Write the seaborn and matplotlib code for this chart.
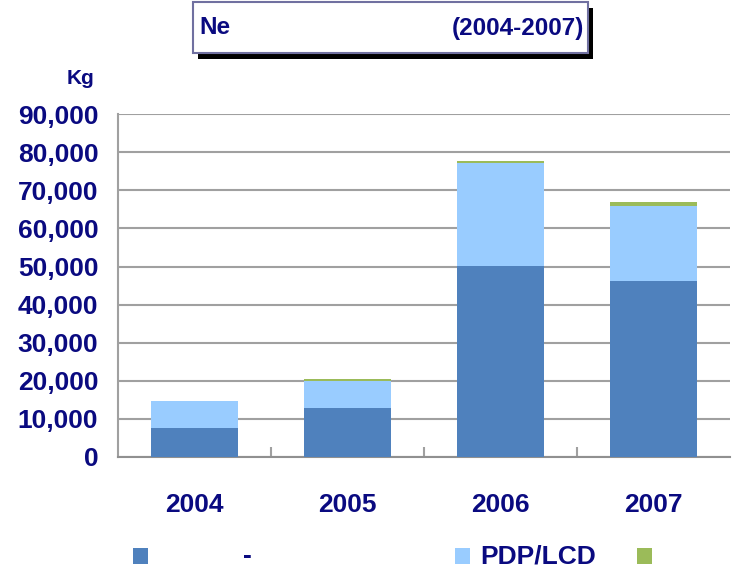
import matplotlib
matplotlib.use("Agg")
import matplotlib.pyplot as plt
from matplotlib.patches import Rectangle
from matplotlib.ticker import MultipleLocator, FuncFormatter
import seaborn as sns
import pandas as pd
import numpy as np

# data (kg)
years = ["2004", "2005", "2006", "2007"]
semi = [7600, 12900, 50100, 46200]        # dark blue
pdp_lcd = [7100, 7100, 27100, 19700]      # light blue
other = [0, 500, 500, 1000]               # green

legend_labels = ["-", "PDP/LCD", ""]
title_left = "Ne"
title_right = "(2004-2007)"

navy = "#0a0a80"
c_semi = "#4F81BD"
c_pdp = "#99CCFF"
c_other = "#9BBB59"

sns.set_theme(style="white")
plt.rcParams["font.family"] = ["Liberation Sans", "DejaVu Sans"]

df = pd.DataFrame({"year": years, "semi": semi, "pdp": pdp_lcd, "other": other})
df["lvl1"] = df["semi"]
df["lvl2"] = df["semi"] + df["pdp"]
df["lvl3"] = df["lvl2"] + df["other"]

fig = plt.figure(figsize=(7.36, 5.74), dpi=100)
ax = fig.add_axes([0.160, 0.204, 0.832, 0.597])

# stacked look by overlapping cumulative bars
for col, color in [("lvl3", c_other), ("lvl2", c_pdp), ("lvl1", c_semi)]:
    sns.barplot(data=df, x="year", y=col, color=color, width=0.57,
                saturation=1, ax=ax, zorder=3, linewidth=0)

ax.set_ylim(0, 90000)
ax.set_xlim(-0.5, 3.5)
ax.yaxis.set_major_locator(MultipleLocator(10000))
ax.yaxis.set_major_formatter(FuncFormatter(lambda v, p: f"{int(v):,}"))
ax.grid(axis="y", color="#a0a0a0", linewidth=1.5, zorder=0)
ax.set_axisbelow(True)
for s in ["top", "right"]:
    ax.spines[s].set_visible(False)
ax.spines["left"].set_color("#a0a0a0")
ax.spines["left"].set_linewidth(1.5)
ax.spines["bottom"].set_color("#909090")
ax.spines["bottom"].set_linewidth(1.5)
ax.set_xlabel("")
ax.set_ylabel("")

ax.tick_params(axis="y", length=0, pad=14, labelsize=19, labelcolor=navy)
ax.tick_params(axis="x", length=0, pad=26, labelsize=19, labelcolor=navy)
for t in ax.get_yticklabels() + ax.get_xticklabels():
    t.set_fontweight("bold")

# small inward ticks between categories
ax.set_xticks([0.5, 1.5, 2.5], minor=True)
ax.tick_params(axis="x", which="minor", direction="in", length=7, width=1.5,
               color="#a0a0a0", bottom=True)

fig.text(80 / 736, 1 - 78 / 574, "Kg", fontsize=15, fontweight="bold",
         color=navy, ha="center", va="center")

# title box with shadow
fig.patches.append(Rectangle((198 / 736, 1 - 59 / 574), 395 / 736, 51 / 574,
                             transform=fig.transFigure, facecolor="black",
                             edgecolor="none", zorder=1))
fig.patches.append(Rectangle((193 / 736, 1 - 53 / 574), 395 / 736, 51 / 574,
                             transform=fig.transFigure, facecolor="white",
                             edgecolor="#7070a0", linewidth=1.5, zorder=2))
fig.text(199 / 736, 1 - 28 / 574, title_left, fontsize=17.5, fontweight="bold",
         color=navy, ha="left", va="center", zorder=3)
fig.text(584 / 736, 1 - 28 / 574, title_right, fontsize=17.5, fontweight="bold",
         color=navy, ha="right", va="center", zorder=3)

# legend drawn by hand
ly = 1 - 556 / 574
sq_w, sq_h = 15 / 736, 16 / 574
for x0, tx, color, label in [(133, 243, c_semi, legend_labels[0]),
                             (455, 480, c_pdp, legend_labels[1]),
                             (637, 662, c_other, legend_labels[2])]:
    fig.patches.append(Rectangle((x0 / 736, ly - sq_h / 2), sq_w, sq_h,
                                 transform=fig.transFigure, facecolor=color,
                                 edgecolor="none"))
    fig.text(tx / 736, ly, label, fontsize=19, fontweight="bold",
             color=navy, ha="left", va="center")

fig.savefig("out.png", dpi=100)
